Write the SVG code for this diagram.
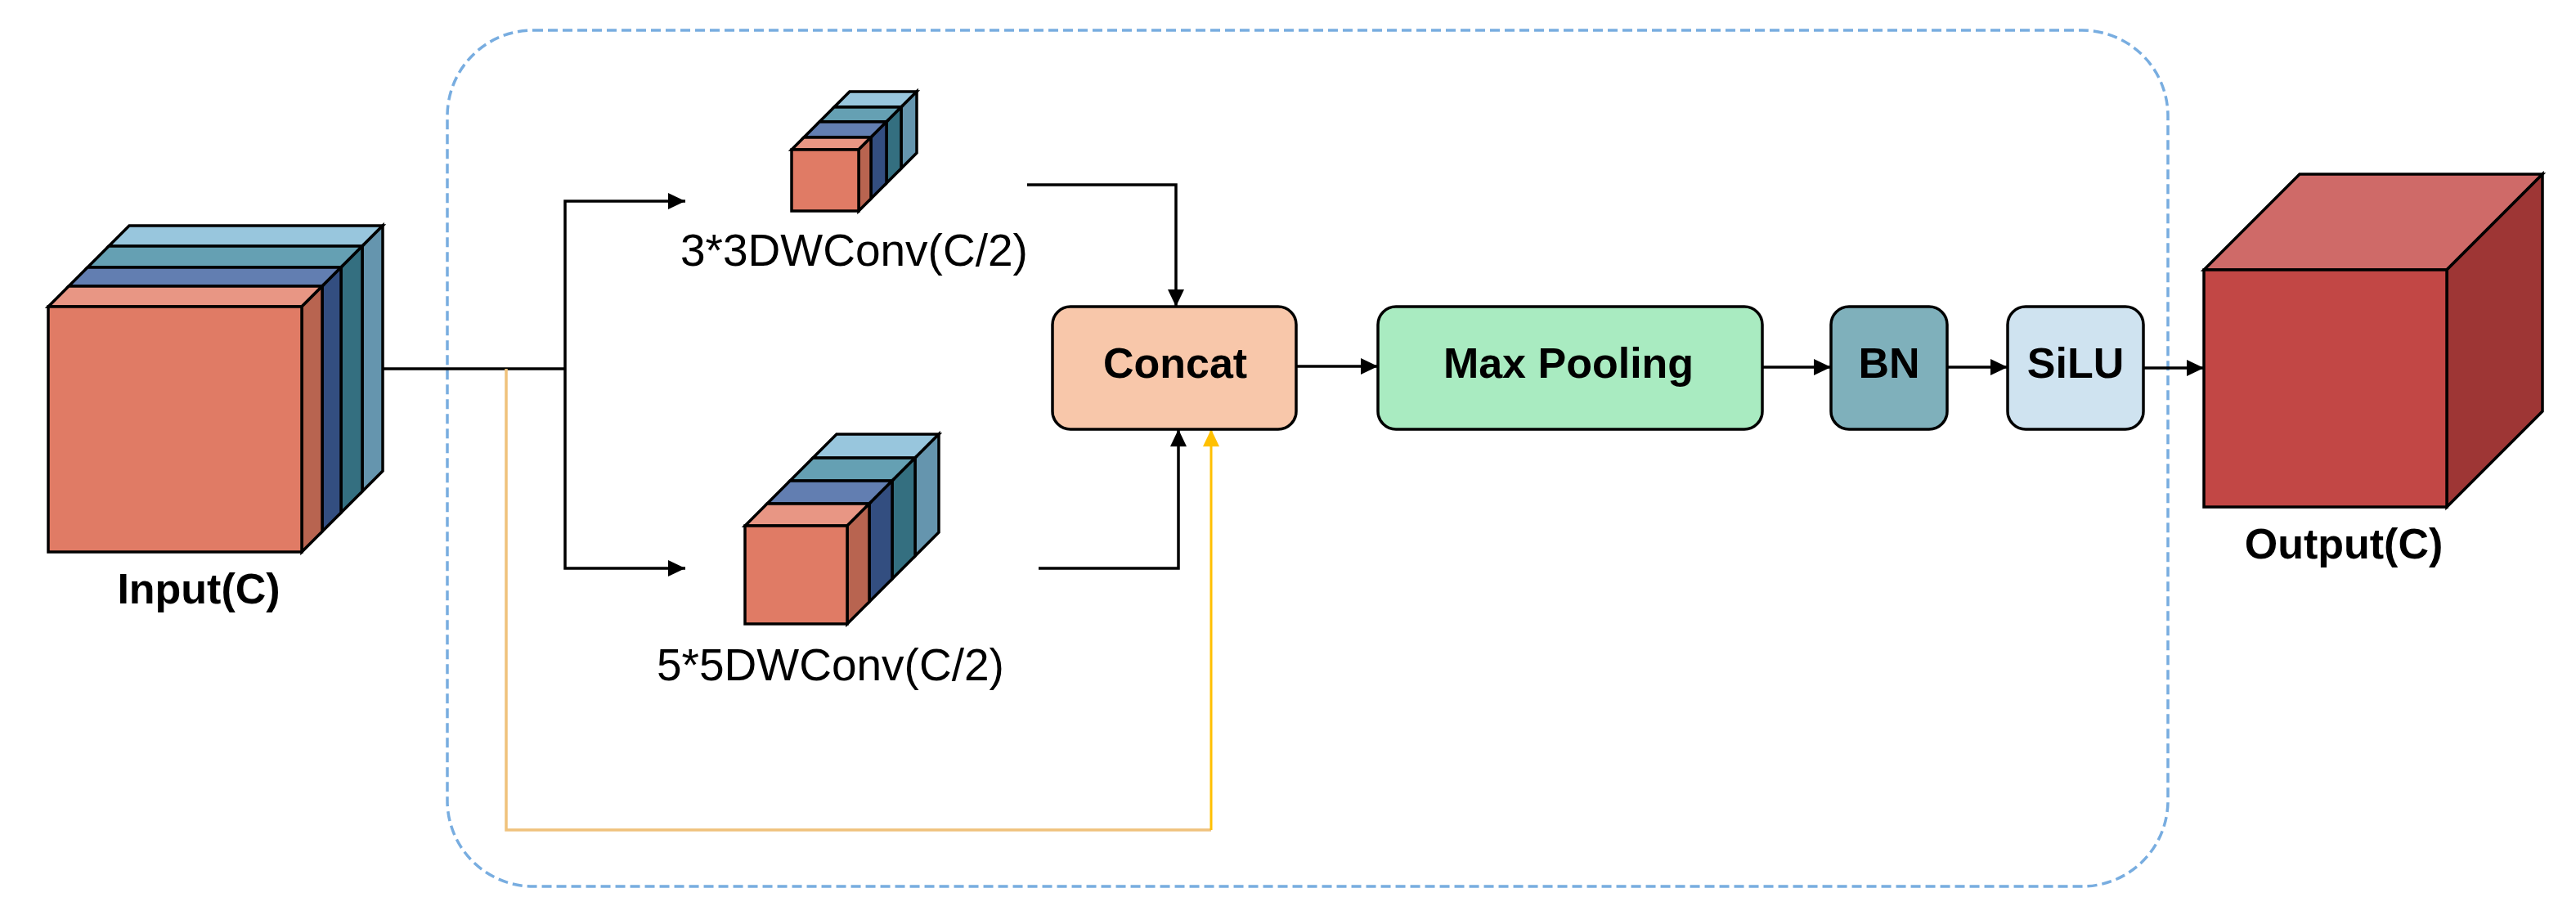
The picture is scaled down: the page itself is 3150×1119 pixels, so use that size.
<svg xmlns="http://www.w3.org/2000/svg" width="3150" height="1119" viewBox="0 0 3150 1119">
<defs>
<style>
.edge{fill:none;stroke:#000;stroke-width:3.5}
.cube{stroke:#000;stroke-width:3.5;stroke-linejoin:miter}
.box{stroke:#000;stroke-width:3.5}
.lbl{font-family:"Liberation Sans",Arial,sans-serif;font-weight:bold;font-size:52px;fill:#000;text-anchor:middle}
.conv{font-family:"Liberation Sans",Arial,sans-serif;font-size:55px;fill:#000}
.of{fill:#e07b65}.ot{fill:#e89684}.or{fill:#b86450}
.bt{fill:#627eb1}.br{fill:#334e80}
.tt{fill:#65a0b3}.tr{fill:#346f80}
.lt{fill:#98c6dd}.lr{fill:#6595ae}
</style>
<marker id="ah" markerUnits="userSpaceOnUse" markerWidth="22" markerHeight="22" refX="21" refY="10" orient="auto">
<path d="M0,0 L21,10 L0,20 z" fill="#000"/>
</marker>
<marker id="ahy" markerUnits="userSpaceOnUse" markerWidth="22" markerHeight="22" refX="21" refY="10" orient="auto">
<path d="M0,0 L21,10 L0,20 z" fill="#ffc000"/>
</marker>
</defs>
<rect width="3150" height="1119" fill="#fff"/>

<g id="module-frame">
<rect x="547" y="37" width="2104" height="1047" rx="105" ry="105" fill="none" stroke="#78ade0" stroke-width="3.5" stroke-dasharray="12 6"/>
</g>

<g id="connectors">
<path class="edge" d="M468,451 H691"/>
<path class="edge" d="M691,451 V246 H838" marker-end="url(#ah)"/>
<path class="edge" d="M691,451 V695 H838" marker-end="url(#ah)"/>
<path class="edge" d="M1256,226 H1438 V375" marker-end="url(#ah)"/>
<path class="edge" d="M1270,695 H1441 V525" marker-end="url(#ah)"/>
<path d="M619,451 V1015 H1481" fill="none" stroke="#f0c27c" stroke-width="3.5"/>
<path d="M1481,1015 V525" fill="none" stroke="#ffc000" stroke-width="3" marker-end="url(#ahy)"/>
<path class="edge" d="M1585,448 H1685" marker-end="url(#ah)"/>
<path class="edge" d="M2155,449 H2239" marker-end="url(#ah)"/>
<path class="edge" d="M2381,449 H2455" marker-end="url(#ah)"/>
<path class="edge" d="M2621,450 H2695" marker-end="url(#ah)"/>
</g>

<g id="input">
<polygon class="cube lt" points="133,301 443,301 468,276 158,276"/>
<polygon class="cube lr" points="443,301 468,276 468,576 443,601"/>
<polygon class="cube tt" points="107,327 417,327 443,301 133,301"/>
<polygon class="cube tr" points="417,327 443,301 443,601 417,627"/>
<polygon class="cube bt" points="84,350 394,350 417,327 107,327"/>
<polygon class="cube br" points="394,350 417,327 417,627 394,650"/>
<polygon class="cube ot" points="59,375 369,375 394,350 84,350"/>
<polygon class="cube or" points="369,375 394,350 394,650 369,675"/>
<rect class="cube of" x="59" y="375" width="310" height="300"/>
<text class="lbl" x="243" y="738">Input(C)</text>
</g>

<g id="conv3">
<polygon class="cube lt" points="1020,131 1102,131 1121,112 1039,112"/>
<polygon class="cube lr" points="1102,131 1121,112 1121,187 1102,206"/>
<polygon class="cube tt" points="1002,149 1084,149 1102,131 1020,131"/>
<polygon class="cube tr" points="1084,149 1102,131 1102,206 1084,224"/>
<polygon class="cube bt" points="983,168 1065,168 1084,149 1002,149"/>
<polygon class="cube br" points="1065,168 1084,149 1084,224 1065,243"/>
<polygon class="cube ot" points="968,183 1050,183 1065,168 983,168"/>
<polygon class="cube or" points="1050,183 1065,168 1065,243 1050,258"/>
<rect class="cube of" x="968" y="183" width="82" height="75"/>
<text class="conv" x="832" y="325">3*3DWConv(C/2)</text>
</g>

<g id="conv5">
<polygon class="cube lt" points="994,560 1119,560 1148,531 1023,531"/>
<polygon class="cube lr" points="1119,560 1148,531 1148,651 1119,680"/>
<polygon class="cube tt" points="966,588 1091,588 1119,560 994,560"/>
<polygon class="cube tr" points="1091,588 1119,560 1119,680 1091,708"/>
<polygon class="cube bt" points="938,616 1063,616 1091,588 966,588"/>
<polygon class="cube br" points="1063,616 1091,588 1091,708 1063,736"/>
<polygon class="cube ot" points="911,643 1036,643 1063,616 938,616"/>
<polygon class="cube or" points="1036,643 1063,616 1063,736 1036,763"/>
<rect class="cube of" x="911" y="643" width="125" height="120"/>
<text class="conv" x="803" y="832">5*5DWConv(C/2)</text>
</g>

<g id="concat">
<rect class="box" x="1287" y="375" width="298" height="150" rx="22" fill="#f8c7aa"/>
<text class="lbl" x="1437" y="462">Concat</text>
</g>

<g id="maxpool">
<rect class="box" x="1685" y="375" width="470" height="150" rx="22" fill="#a9ebc1"/>
<text class="lbl" x="1918" y="462">Max Pooling</text>
</g>

<g id="bn">
<rect class="box" x="2239" y="375" width="142" height="150" rx="22" fill="#7fb0bb"/>
<text class="lbl" x="2310" y="462">BN</text>
</g>

<g id="silu">
<rect class="box" x="2455" y="375" width="166" height="150" rx="22" fill="#cfe3f0"/>
<text class="lbl" x="2538" y="462">SiLU</text>
</g>

<g id="output">
<polygon class="cube" fill="#cf6a68" points="2695,330 2992,330 3109,213 2812,213"/>
<polygon class="cube" fill="#9e3635" points="2992,330 3109,213 3109,503 2992,620"/>
<rect class="cube" fill="#c24745" x="2695" y="330" width="297" height="290"/>
<text class="lbl" x="2866" y="683">Output(C)</text>
</g>
</svg>
